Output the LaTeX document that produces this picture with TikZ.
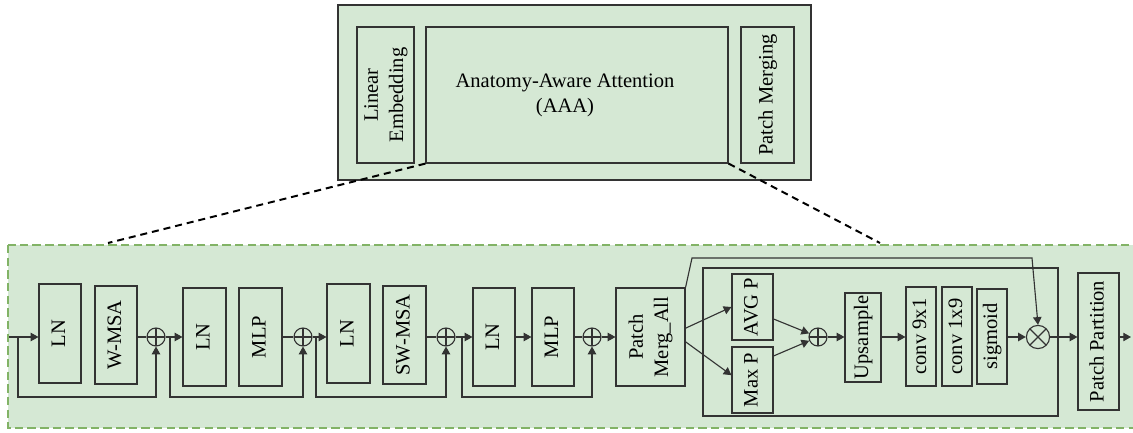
\documentclass[tikz,border=0pt]{standalone}
\usepackage{fontspec}
\setmainfont{Liberation Serif}
\usetikzlibrary{arrows.meta}

\definecolor{greenfill}{HTML}{D5E8D4}
\definecolor{greenline}{HTML}{82B366}
\definecolor{linegray}{HTML}{333333}

\newcommand{\vlabel}[1]{\rotatebox{90}{\begin{tabular}{@{}c@{}}#1\end{tabular}}}

\begin{document}
\begin{tikzpicture}[
    x=0.025cm, y=-0.025cm,
    font=\fontsize{14.6}{18}\selectfont,
    line width=0.8pt, draw=linegray,
    arrow/.style={-{Triangle[length=5.5pt,width=6pt]}},
    blk/.style 2 args={draw=linegray, fill=greenfill, inner sep=0pt, minimum width=#1*0.025cm, minimum height=#2*0.025cm},
    sumnode/.style={circle, draw=linegray, fill=greenfill, inner sep=0pt, minimum size=0.45cm,
        path picture={\draw[linegray] (path picture bounding box.north) -- (path picture bounding box.south)
            (path picture bounding box.west) -- (path picture bounding box.east);}},
    mulnode/.style={circle, draw=linegray, fill=greenfill, inner sep=0pt, minimum size=0.58cm,
        path picture={\draw[linegray] ([shift={(-1cm,-1cm)}]path picture bounding box.center) -- ([shift={(1cm,1cm)}]path picture bounding box.center)
            ([shift={(-1cm,1cm)}]path picture bounding box.center) -- ([shift={(1cm,-1cm)}]path picture bounding box.center);}},
    zoomline/.style={draw=black, line width=1.4pt, dash pattern=on 5pt off 3.5pt},
    frame/.style={draw=greenline, fill=greenfill, line width=1.5pt, dash pattern=on 6pt off 3pt}
]
\useasboundingbox (0,0) rectangle (1133,433);

% top block
\node[blk={473}{175}] (block) at (574.5,92.5) {};
\node[blk={57}{136}] (embed) at (385.5,95) {\vlabel{Linear\\Embedding}};
\node[blk={302}{136}] (aaa) at (577,95) {\hspace*{-0.6cm}\begin{tabular}{@{}c@{}}Anatomy-Aware Attention\\(AAA)\end{tabular}};
\node[blk={53}{136}] (merge) at (767.5,95) {\vlabel{Patch Merging}};

% expanded view
\draw[frame] (8,245) rectangle (1145,428);
\coordinate (zl) at (108,243);
\coordinate (zr) at (880,243);
\draw[zoomline] (aaa.south west) -- (zl);
\draw[zoomline] (aaa.south east) -- (zr);

\node[blk={42}{99}] (ln1) at (60,333.5) {\vlabel{LN}};
\node[blk={42}{98}] (wmsa) at (116,335) {\vlabel{W-MSA}};
\node[sumnode] (add1) at (156,337) {};
\node[blk={43}{98}] (ln2) at (204.5,337) {\vlabel{LN}};
\node[blk={43}{98}] (mlp1) at (260.5,337) {\vlabel{MLP}};
\node[sumnode] (add2) at (303,337) {};
\node[blk={43}{99}] (ln3) at (348.5,333.5) {\vlabel{LN}};
\node[blk={43}{98}] (swmsa) at (404.5,335) {\vlabel{SW-MSA}};
\node[sumnode] (add3) at (446,337) {};
\node[blk={42}{98}] (ln4) at (494,337) {\vlabel{LN}};
\node[blk={42}{98}] (mlp2) at (553,337) {\vlabel{MLP}};
\node[sumnode] (add4) at (592,337) {};
\node[blk={69}{98}] (pma) at (650.5,337) {\vlabel{Patch\\Merg\_All}};

% attention module
\node[blk={355}{148}, fill=none] (attn) at (880.5,342) {};
\node[blk={41}{66}] (avgp) at (752.5,307) {\vlabel{AVG P}};
\node[blk={41}{66}] (maxp) at (752.5,380) {\vlabel{Max P}};
\node[sumnode] (add5) at (818,337) {};
\node[blk={36}{89}] (up) at (863,337.5) {\vlabel{Upsample}};
\node[blk={30}{99}] (conv9) at (921,336.5) {\vlabel{conv 9x1}};
\node[blk={30}{99}] (conv1) at (957,336.5) {\vlabel{conv 1x9}};
\node[blk={30}{95}] (sig) at (992,336.5) {\vlabel{sigmoid}};
\node[mulnode] (mul) at (1038,337) {};
\node[blk={41}{137}] (part) at (1098.5,341.5) {\vlabel{Patch Partition}};

% main path
\coordinate (in) at (9,337);
\draw[arrow] (in) -- (in -| ln1.west);
\draw (wmsa.east |- add1) -- (add1.west);
\draw[arrow] (add1.east) -- (add1.east -| ln2.west);
\draw (mlp1.east |- add2) -- (add2.west);
\draw[arrow] (add2.east) -- (add2.east -| ln3.west);
\draw (swmsa.east |- add3) -- (add3.west);
\draw[arrow] (add3.east) -- (add3.east -| ln4.west);
\draw[arrow] (ln4.east |- add3) -- (mlp2.west |- add3);
\draw (mlp2.east |- add4) -- (add4.west);
\draw[arrow] (add4.east) -- (add4.east -| pma.west);

% residual loops
\foreach \x/\s in {18/add1, 170/add2, 316/add3, 462/add4} {
    \coordinate (tap) at (\x,397);
    \draw[arrow] (tap |- \s.west) -- (tap) -| (\s.south);
}

\draw[arrow] ([yshift=0.22cm]pma.east) -- (avgp.west);
\draw[arrow] ([yshift=-0.12cm]pma.east) -- ([yshift=0.12cm]maxp.west);
\draw[arrow] ([yshift=-0.3cm]avgp.east) -- (add5);
\draw[arrow] ([yshift=0.6cm]maxp.east) -- (add5);
\draw[arrow] (add5.east) -- (add5.east -| up.west);
\draw[arrow] (up.east |- add5) -- (conv9.west |- add5);
\draw[arrow] (sig.east |- mul) -- (mul.west);
\draw[arrow] (mul.east) -- (mul.east -| part.west);
\coordinate (out) at (1131,337);
\draw[arrow] (part.east |- out) -- (out);

% bypass to the product
\coordinate (b1) at (692,258);
\coordinate (b2) at (1032,258);
\draw[arrow] (pma.north east) -- (b1) -- (b2) -- (mul.north);

\end{tikzpicture}
\end{document}
